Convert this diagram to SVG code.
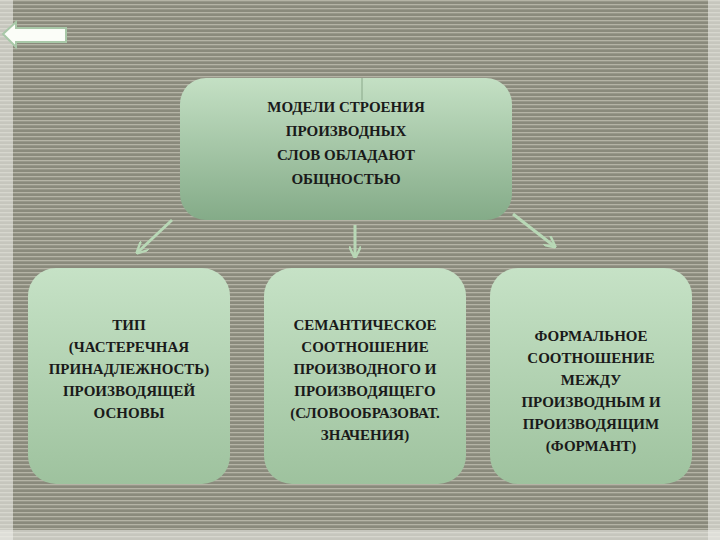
<svg xmlns="http://www.w3.org/2000/svg" width="720" height="540" viewBox="0 0 720 540">
<defs>
<pattern id="st" width="8" height="4" patternUnits="userSpaceOnUse"><rect width="8" height="4" fill="#8a8a7c"/><rect y="0" width="8" height="1.3" fill="#b5b4a6"/></pattern>
<linearGradient id="gt" x1="0" y1="0" x2="0" y2="1"><stop offset="0" stop-color="#c4e0c4"/><stop offset="1" stop-color="#84ab88"/></linearGradient>
<linearGradient id="gb" x1="0" y1="0" x2="0" y2="1"><stop offset="0" stop-color="#c6e2c6"/><stop offset="1" stop-color="#9ec29e"/></linearGradient>
<marker id="ah" viewBox="0 0 10 10" refX="8" refY="5" markerWidth="4" markerHeight="4" orient="auto"><path d="M0,0 L10,5 L0,10" fill="none" stroke="#b8d8b6" stroke-width="2"/></marker>
<style>
.t{font-family:"Liberation Serif","DejaVu Serif",serif;font-weight:bold;font-size:15px;fill:#1a1a1a;text-anchor:middle}
.c{stroke:#b8d8b6;stroke-width:3;fill:none;marker-end:url(#ah)}
</style>
</defs>
<rect width="720" height="540" fill="#f4f4f0"/>
<rect x="0" y="0" width="720" height="540" fill="url(#st)"/>
<rect x="0" y="0" width="13" height="540" fill="#eeeeea" opacity="0.6"/>
<rect x="708" y="0" width="12" height="540" fill="#eeeeea" opacity="0.6"/>
<rect x="0" y="530" width="720" height="10" fill="#eeeeea" opacity="0.6"/>
<g id="back"><path d="M3,34 L16,22 L16,28 L66,28 L66,42 L16,42 L16,47 Z" fill="#fbfdf8" stroke="#a8c8a8" stroke-width="2"/></g>
<g id="connectors">
<line class="c" x1="172" y1="220" x2="138" y2="252"/>
<line class="c" x1="355" y1="225" x2="355" y2="256"/>
<line class="c" x1="513" y1="214" x2="554" y2="246"/>
</g>
<g id="n0"><rect x="180" y="78" width="332" height="142" rx="26" fill="url(#gt)"/><line x1="362" y1="78" x2="362" y2="100" stroke="#8aa88a" stroke-width="1"/>
<text class="t"><tspan x="346" y="112">МОДЕЛИ СТРОЕНИЯ</tspan><tspan x="346" y="136">ПРОИЗВОДНЫХ</tspan><tspan x="346" y="160">СЛОВ ОБЛАДАЮТ</tspan><tspan x="346" y="184">ОБЩНОСТЬЮ</tspan></text></g>
<g id="n1"><rect x="28" y="268" width="202" height="216" rx="28" fill="url(#gb)"/>
<text class="t"><tspan x="129" y="330">ТИП</tspan><tspan x="129" y="352">(ЧАСТЕРЕЧНАЯ</tspan><tspan x="129" y="374">ПРИНАДЛЕЖНОСТЬ)</tspan><tspan x="129" y="396">ПРОИЗВОДЯЩЕЙ</tspan><tspan x="129" y="418">ОСНОВЫ</tspan></text></g>
<g id="n2"><rect x="264" y="268" width="202" height="216" rx="28" fill="url(#gb)"/>
<text class="t"><tspan x="365" y="330">СЕМАНТИЧЕСКОЕ</tspan><tspan x="365" y="352">СООТНОШЕНИЕ</tspan><tspan x="365" y="374">ПРОИЗВОДНОГО И</tspan><tspan x="365" y="396">ПРОИЗВОДЯЩЕГО</tspan><tspan x="365" y="418">(СЛОВООБРАЗОВАТ.</tspan><tspan x="365" y="440">ЗНАЧЕНИЯ)</tspan></text></g>
<g id="n3"><rect x="490" y="268" width="202" height="216" rx="28" fill="url(#gb)"/>
<text class="t"><tspan x="591" y="341">ФОРМАЛЬНОЕ</tspan><tspan x="591" y="363">СООТНОШЕНИЕ</tspan><tspan x="591" y="385">МЕЖДУ</tspan><tspan x="591" y="407">ПРОИЗВОДНЫМ И</tspan><tspan x="591" y="429">ПРОИЗВОДЯЩИМ</tspan><tspan x="591" y="451">(ФОРМАНТ)</tspan></text></g>
</svg>
